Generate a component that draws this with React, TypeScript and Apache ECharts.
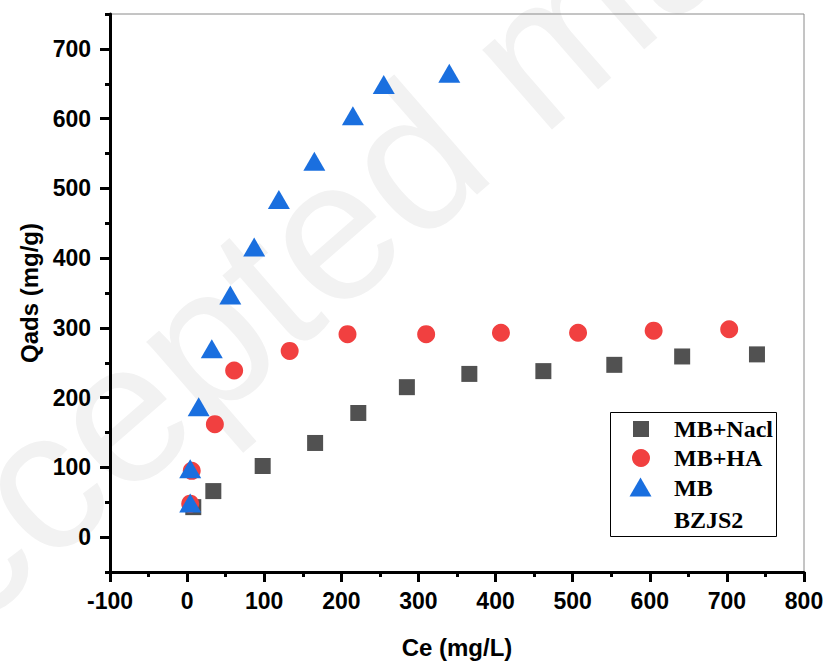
import React, { useEffect, useRef } from "react";
import * as echarts from "echarts";

// ---- data ----
const NACL_X = [8, 34, 98, 166, 222, 285, 366, 462, 554, 642, 739];
const NACL_Y = [43, 66, 102, 135, 178, 215, 234, 238, 247, 259, 262];

const HA_X = [4, 6, 36, 61, 133, 208, 310, 407, 507, 605, 703];
const HA_Y = [48, 95, 162, 239, 267, 291, 291, 293, 293, 296, 298];

const MB_X = [4, 4, 15, 32, 56, 87, 119, 165, 215, 255, 340];
const MB_Y = [49, 98, 187, 270, 347, 416, 484, 539, 604, 649, 665];

const SERIES_NAMES = ["MB+Nacl", "MB+HA", "MB", "BZJS2"];
const Y_MAJOR_TICKS = [0, 100, 200, 300, 400, 500, 600, 700];
const Y_MINOR_TICKS = [-50, 50, 150, 250, 350, 450, 550, 650, 750];

const COLORS = ["#515151", "#F14040", "#1A6FDF"];

const zip = (xs: number[], ys: number[]) => xs.map((x, i) => [x, ys[i]]);

export default function App() {
  const ref = useRef<HTMLDivElement>(null);

  useEffect(() => {
    if (!ref.current) return;
    const chart = echarts.init(ref.current, undefined, { renderer: "svg" });
    const labelFont = {
      color: "#000",
      fontFamily: "Liberation Sans, Arial, sans-serif",
      fontWeight: "bold" as const,
      fontSize: 23,
    };
    const legendFont = "bold 24px 'Liberation Serif', 'Times New Roman', serif";
    const rowY = [429, 458, 488, 520];

    chart.setOption({
      animation: false,
      backgroundColor: "#fff",
      grid: {
        left: 110,
        right: 26,
        top: 14,
        bottom: 91,
        show: true,
        borderColor: "#8a8a8a",
        borderWidth: 1,
        containLabel: false,
      },
      xAxis: {
        type: "value",
        min: -100,
        max: 800,
        interval: 100,
        name: "Ce (mg/L)",
        nameLocation: "middle",
        nameGap: 63,
        nameTextStyle: { ...labelFont, fontSize: 24 },
        axisLine: { show: true, onZero: false, lineStyle: { color: "#000", width: 3 } },
        axisTick: { show: true, length: 10, lineStyle: { color: "#000", width: 3 } },
        minorTick: { show: true, splitNumber: 2, length: 5, lineStyle: { color: "#000", width: 3 } },
        axisLabel: { ...labelFont, margin: 17 },
        splitLine: { show: false },
      },
      yAxis: [
        {
          type: "value",
          min: -50,
          max: 750,
          name: "Qads (mg/g)",
          nameLocation: "middle",
          nameGap: 67,
          nameTextStyle: { ...labelFont, fontSize: 24 },
          axisLine: { show: true, onZero: false, lineStyle: { color: "#000", width: 3 } },
          axisTick: {
            show: true,
            length: 10,
            customValues: Y_MAJOR_TICKS,
            lineStyle: { color: "#000", width: 3 },
          },
          axisLabel: { ...labelFont, margin: 19, customValues: Y_MAJOR_TICKS },
          splitLine: { show: false },
        },
        {
          type: "value",
          min: -50,
          max: 750,
          position: "left",
          axisLine: { show: false, onZero: false },
          axisTick: {
            show: true,
            length: 5,
            customValues: Y_MINOR_TICKS,
            lineStyle: { color: "#000", width: 3 },
          },
          axisLabel: { show: false },
          splitLine: { show: false },
        },
      ],
      series: [
        {
          name: SERIES_NAMES[0],
          type: "scatter",
          symbol: "rect",
          symbolSize: 16,
          itemStyle: { color: COLORS[0], opacity: 1 },
          data: zip(NACL_X, NACL_Y),
          z: 2,
        },
        {
          name: SERIES_NAMES[1],
          type: "scatter",
          symbol: "circle",
          symbolSize: 18,
          itemStyle: { color: COLORS[1], opacity: 1 },
          data: zip(HA_X, HA_Y),
          z: 3,
        },
        {
          name: SERIES_NAMES[2],
          type: "scatter",
          symbol: "triangle",
          symbolSize: [22, 19],
          itemStyle: { color: COLORS[2], opacity: 1 },
          data: zip(MB_X, MB_Y),
          z: 4,
        },
      ],
      graphic: [
        {
          type: "text",
          z: -10,
          zlevel: 0,
          silent: true,
          x: -110,
          y: 745,
          rotation: (41 * Math.PI) / 180,
          style: {
            text: "Accepted manuscript",
            fill: "#f2f2f2",
            font: "200px 'Liberation Sans', Arial, sans-serif",
            textVerticalAlign: "bottom",
          },
        },
        {
          type: "rect",
          z: 100,
          shape: { x: 610.5, y: 412.5, width: 166, height: 124 },
          style: { fill: "#fff", stroke: "#000", lineWidth: 1 },
        },
        {
          type: "rect",
          z: 101,
          shape: { x: 633, y: rowY[0] - 8, width: 16, height: 16 },
          style: { fill: COLORS[0] },
        },
        {
          type: "circle",
          z: 101,
          shape: { cx: 641, cy: rowY[1], r: 9 },
          style: { fill: COLORS[1] },
        },
        {
          type: "polygon",
          z: 101,
          shape: {
            points: [
              [629.5, rowY[2] + 8.5],
              [651.5, rowY[2] + 8.5],
              [640.5, rowY[2] - 10.5],
            ],
          },
          style: { fill: COLORS[2] },
        },
        ...SERIES_NAMES.map((n, i) => ({
          type: "text",
          z: 101,
          x: 674,
          y: rowY[i],
          style: {
            text: n,
            font: legendFont,
            fill: "#000",
            textVerticalAlign: "middle",
            verticalAlign: "middle",
          },
        })),
      ],
    });
    return () => chart.dispose();
  }, []);

  return (
    <div
      ref={ref}
      style={{ position: "fixed", left: 0, top: 0, width: 830, height: 664 }}
    />
  );
}
